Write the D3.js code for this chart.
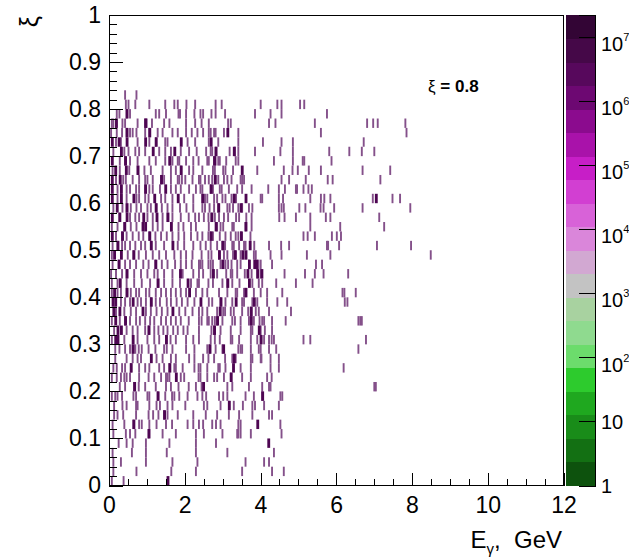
<!DOCTYPE html>
<html><head><meta charset="utf-8">
<script src="https://cdn.jsdelivr.net/npm/d3@7"></script>
<style>
body{margin:0;background:#fff}
svg{display:block}
text{font-family:"Liberation Sans",Arial,Helvetica,sans-serif;fill:#000}
</style>
</head><body>
<svg id="chart" width="629" height="557"></svg>
<script>
// ---------------- DATA ----------------
// lower edges of the xi bins (rows), bin height 0.02
const xiRows = [0.00,0.02,0.04,0.06,0.08,0.10,0.12,0.14,0.16,0.18,0.20,0.22,0.24,0.26,0.28,0.30,0.32,0.34,0.36,0.38,0.40,0.42,0.44,0.46,0.48,0.50,0.52,0.54,0.56,0.58,0.60,0.62,0.64,0.66,0.68,0.70,0.72,0.74,0.76,0.78,0.80,0.82];
const xiBin = 0.02;
const eBin = 0.05;   // E_gamma bin width, GeV
// E_gamma (GeV) of filled cells with low content, one list per xi row
const lowCells = [
 [0.05,0.36],
 [0.09,0.70,1.62,2.27,3.49,4.28,4.59],
 [0.09,0.29,0.95,1.65,2.31,3.58,4.07,4.20],
 [0.07,0.58,0.95,1.50,2.27,3.10,4.33],
 [0.23,0.44,0.60,0.95,1.57,2.27,2.80],
 [0.09,0.42,0.53,0.67,1.02,1.39,1.74,2.27,2.48,2.97,3.36,3.39,3.45,3.72,4.53],
 [0.07,0.38,0.62,0.77,0.84,1.04,1.23,1.48,1.64,2.05,2.20,2.35,2.46,2.70,2.80,2.92,3.39,3.45,4.50],
 [0.11,0.20,0.35,0.69,1.02,1.14,1.28,1.43,1.52,1.79,2.20,2.53,2.83,3.14,3.41,3.76,4.20,4.28],
 [0.11,0.33,0.44,0.69,0.73,1.04,1.23,1.32,1.52,1.65,1.99,2.48,2.57,2.92,3.14,3.27,3.51,3.76,3.83,4.07,4.46],
 [0.05,0.14,0.20,0.32,0.62,0.69,0.99,1.04,1.26,1.46,1.64,1.70,1.83,2.05,2.31,2.44,2.54,2.88,2.99,3.10,3.58,3.80,4.02,4.50,4.55],
 [0.26,0.40,0.64,0.76,0.93,1.21,1.48,1.61,1.81,2.08,2.27,2.42,3.10,3.23,3.67,4.02,4.20,4.24,6.98,7.02],
 [0.05,0.18,0.29,0.38,0.44,0.53,0.77,1.02,1.17,1.35,1.48,1.52,1.57,1.87,1.96,2.34,2.39,2.57,2.75,2.83,3.01,3.19,3.49,3.72,4.15,4.27],
 [0.09,0.18,0.32,0.40,0.55,0.77,0.93,1.04,1.30,1.43,1.57,1.70,1.74,1.92,2.23,2.34,2.39,2.57,2.86,2.90,3.05,3.45,3.72,4.24,4.46,6.17],
 [0.14,0.44,0.60,0.73,0.82,1.23,1.39,1.61,1.74,2.09,2.23,2.46,2.60,2.75,3.04,3.23,3.27,3.32,3.72,3.76,3.98,4.00,4.24,4.46],
 [0.14,0.25,0.40,0.53,0.60,0.67,0.76,0.84,1.02,1.20,1.43,1.50,1.65,2.01,2.23,2.57,2.63,2.79,2.97,3.39,3.45,3.49,3.72,3.93,3.98,4.20,4.39,6.56],
 [0.05,0.38,0.73,0.99,1.17,1.30,1.48,1.60,1.74,2.01,2.20,2.35,2.66,2.77,2.90,3.19,3.23,3.41,3.72,3.89,3.98,4.07,4.20,4.27,4.33,5.11,5.29,6.76],
 [0.11,0.44,0.60,0.73,0.93,1.02,1.17,1.28,1.41,1.52,1.67,1.79,1.94,2.05,2.35,2.68,2.75,2.92,3.19,3.45,3.72,3.76,3.98,4.09,4.28],
 [0.05,0.26,0.40,0.53,0.69,0.79,0.93,1.06,1.17,1.35,1.48,1.61,1.74,1.87,2.08,2.35,2.42,2.57,2.61,2.70,2.77,2.83,2.97,3.23,3.30,3.45,3.67,3.72,3.80,3.95,4.02,4.07,4.28,4.64,6.56,6.61,6.65],
 [0.16,0.38,0.55,0.69,0.95,1.08,1.23,1.37,1.52,1.83,1.99,2.18,2.35,2.44,2.57,2.83,2.90,2.99,3.04,3.19,3.27,3.49,3.65,3.72,3.85,3.93,4.20,4.78],
 [0.29,0.40,0.53,0.73,0.82,0.95,1.08,1.21,1.32,1.50,1.61,1.76,1.90,2.05,2.23,2.61,2.70,2.92,3.05,3.23,3.49,3.54,3.76,3.89,4.15,4.42,4.68,6.20,6.27],
 [0.05,0.20,0.29,0.44,0.55,0.69,0.77,0.95,1.04,1.21,1.35,1.48,1.61,1.74,1.87,2.01,2.27,2.44,2.57,2.88,3.10,3.32,3.36,3.54,3.58,3.80,3.98,4.15,4.55,6.14,6.19,6.49],
 [0.05,0.20,0.26,0.44,0.64,0.84,1.06,1.26,1.43,1.65,1.85,2.14,2.31,2.35,2.60,2.72,2.97,3.10,3.23,3.42,3.76,3.93,4.02,4.39,4.91,5.35],
 [0.03,0.16,0.32,0.44,0.64,0.82,0.99,1.17,1.26,1.43,1.65,1.92,2.20,2.35,2.46,2.66,2.72,2.83,3.07,3.19,3.23,3.36,3.56,3.74,3.89,3.98,4.61,5.15,5.41,5.64,6.29],
 [0.07,0.23,0.40,0.53,0.69,0.88,1.02,1.20,1.37,1.52,1.72,1.87,2.01,2.16,2.35,2.39,2.44,2.60,2.66,2.72,2.92,3.05,3.12,3.21,3.36,3.45,3.67,3.92,3.98,4.28,5.44,5.60],
 [0.05,0.47,0.62,0.76,0.95,1.13,1.30,1.48,1.70,1.87,2.01,2.18,2.42,2.60,2.68,2.88,3.01,3.10,3.25,3.30,3.45,3.80,3.85,4.24,4.53,5.20,5.82,8.47],
 [0.07,0.20,0.32,0.40,0.53,0.67,0.82,0.93,1.08,1.21,1.43,1.79,1.96,2.20,2.39,2.53,2.66,2.83,2.97,3.04,3.23,3.27,3.41,3.54,3.58,3.81,4.20,4.52,4.73,5.73,5.76,6.05,7.05,7.95],
 [0.16,0.32,0.44,0.60,0.76,0.88,1.04,1.20,1.35,1.50,1.65,1.81,1.96,2.14,2.31,2.44,2.60,2.66,2.72,2.90,3.05,3.19,3.32,3.39,3.46,3.71,5.11,5.22,5.41,5.86,5.99,6.10],
 [0.05,0.20,0.38,0.55,0.70,1.13,1.26,1.39,1.61,1.81,1.94,2.14,2.27,2.61,2.83,2.92,2.99,3.23,3.27,3.58,3.74,5.29,6.08,7.24],
 [0.25,0.53,0.67,0.77,0.99,1.13,1.39,1.52,1.65,1.87,2.08,2.25,2.35,2.48,2.60,2.68,2.77,2.88,3.01,3.12,3.33,3.41,3.60,3.74,4.47,4.61,4.91,5.29,5.70,5.82,7.11],
 [0.09,0.33,0.44,0.55,0.70,0.82,0.99,1.08,1.21,1.37,1.52,1.65,1.85,2.02,2.20,2.44,2.51,2.63,2.75,2.86,3.10,3.16,3.25,3.39,3.49,3.67,3.76,4.46,4.53,4.59,5.00,5.16,5.56,5.64,5.92,6.67,7.93],
 [0.20,0.29,0.44,0.70,0.77,0.93,1.02,1.35,1.46,1.65,1.96,2.20,2.44,2.51,2.57,2.75,2.83,2.97,3.05,3.21,3.27,3.33,3.98,4.02,4.46,4.57,5.29,5.57,5.66,5.82,6.94,7.46,7.66],
 [0.20,0.29,0.44,0.53,0.69,0.77,0.93,1.04,1.13,1.32,1.61,1.74,1.87,2.09,2.27,2.39,2.44,2.66,2.72,2.90,2.95,3.14,3.36,3.49,3.74,4.18,4.46,4.62,4.91,4.94,5.11,5.24,5.33],
 [0.16,0.26,0.35,0.42,0.60,0.77,0.93,0.99,1.13,1.35,1.43,1.61,1.79,1.83,1.90,1.99,2.18,2.35,2.39,2.51,2.61,2.70,2.77,2.86,3.01,3.10,3.21,3.45,3.49,3.54,4.53,4.73,5.17,5.75,5.88,7.14],
 [0.07,0.26,0.51,0.73,0.91,1.08,1.39,1.61,1.74,1.87,2.09,2.20,2.44,2.72,2.77,2.99,3.05,3.25,3.89,4.59,4.82,4.96,5.25,5.57,6.67,7.40],
 [0.26,0.40,0.53,0.73,1.04,1.21,1.46,1.57,1.65,1.79,1.83,2.01,2.20,2.34,2.57,2.61,2.75,2.79,2.86,2.90,3.07,3.32,3.39,4.33,4.83,5.09,5.13,5.85],
 [0.09,0.29,0.38,0.49,0.67,0.77,0.93,1.30,1.46,1.61,1.87,2.09,2.29,2.54,2.66,2.70,2.79,3.16,3.30,3.39,3.83,4.50,4.83,5.79,6.32,6.65,6.98],
 [0.16,0.29,0.73,1.04,1.21,1.46,1.52,2.05,2.25,2.61,2.86,3.39,4.04,4.53,4.83,6.70],
 [0.03,0.18,0.32,0.44,0.53,0.60,0.70,0.93,1.04,1.26,1.39,1.65,1.79,2.01,2.16,2.31,2.46,2.61,2.66,2.75,2.79,3.01,3.39,5.57,7.83],
 [0.05,0.09,0.16,0.33,0.40,0.73,0.93,0.97,1.11,1.43,1.57,2.01,2.25,2.42,2.61,3.12,3.19,4.20,4.37,5.41,6.79,6.95,7.07,7.80],
 [0.18,0.25,0.44,0.53,1.21,1.30,1.48,1.81,1.85,2.01,2.23,2.39,2.46,2.68,2.79,3.04,3.83,4.24,4.53,5.73],
 [0.42,0.49,0.67,1.04,1.46,1.70,1.79,2.02,2.25,2.79,2.95,3.98,4.42,4.53,5.02,5.13],
 [0.40,0.70]
];
// E_gamma (GeV) of filled cells with high content, one list per xi row
const highCells = [
 [1.52],[],[],[],[4.18],[1.02],[0.62,3.89],[1.43],[3.14],[1.26,4.02],
 [0.64,2.46],[1.74,3.19],[0.55,1.57,3.25],[1.08,3.27],[0.60,2.63,2.99],[0.14,0.20,0.60,1.48,3.98],[0.20,0.29,1.02,2.75,3.93],[0.14,0.40,2.83,3.72],[0.09,0.25,0.86,1.65,2.90,3.72],[0.07,0.14,0.60,1.08,2.39,2.92,3.32,3.80],
 [0.11,0.44,2.09,3.58],[0.26,1.26,2.05,3.10,3.67],[0.44,1.85,2.72,3.63,3.89,4.00],[0.23,1.20,2.97,3.67,3.81,3.86],[0.11,0.29,0.62,2.88,3.30,3.50,3.58],[0.20,1.08,1.65,2.97,3.69],[0.05,0.32,1.04,2.66,3.46],[0.38,0.86,0.93,1.61,2.79,3.58],[0.05,0.25,0.44,0.88,1.23,1.52,2.68],[0.18,0.44,1.21,2.86,3.45],
 [0.05,0.29,0.62,1.17,1.79,2.44,3.27,3.58,7.02],[0.05,0.29,0.93,1.46,2.66],[0.05,0.26,1.35,2.77],[0.14,0.42,0.73,1.87,3.48],[0.05,0.40,1.57,2.75],[0.29,1.13,1.70,2.79,3.27],[0.05,0.23,0.44,0.93,1.21,1.87,2.66],[0.44,1.04,3.10],[0.16,0.93],[0.44],
 [],[]
];
const lowContent = 3e6, highContent = 1.8e7;

const xTicks = [0,2,4,6,8,10,12];
const yTicks = [0,0.1,0.2,0.3,0.4,0.5,0.6,0.7,0.8,0.9,1];
const zMin = 1, zMax = 2.2e7;
const paletteColors = ["#0d520d","#137013","#198c19","#1fa81f","#2dcb2d","#6cdc6c","#8fda8f","#a8d2a0","#c3c3c3","#d2a8d2","#da86da","#d862d8","#d23fd2","#c71ec7","#a912aa","#8b0b8e","#6d0872","#57085c","#450848","#330535"];
const cellColors = {low:"#84508a", high:"#4e0652"};
const zLabels = [{v:1,base:"1",exp:""},{v:10,base:"10",exp:""},{v:1e2,base:"10",exp:"2"},{v:1e3,base:"10",exp:"3"},{v:1e4,base:"10",exp:"4"},{v:1e5,base:"10",exp:"5"},{v:1e6,base:"10",exp:"6"},{v:1e7,base:"10",exp:"7"}];

// ---------------- LAYOUT ----------------
const L = 109, R = 563.5, T = 15, B = 485.5;
const svg = d3.select("#chart");
const x = d3.scaleLinear().domain([0,12]).range([L,R]);
const y = d3.scaleLinear().domain([0,1]).range([B,T]);
const zy = d3.scaleLog().domain([zMin,zMax]).range([B,T]);

// cells
const cells = [];
xiRows.forEach((xi,i)=>{
  lowCells[i].forEach(e=>cells.push({e,xi,c:lowContent}));
});
xiRows.forEach((xi,i)=>{
  highCells[i].forEach(e=>cells.push({e,xi,c:highContent}));
});
const plot = svg.append("g");
plot.selectAll("rect.cell").data(cells).join("rect")
  .attr("class","cell")
  .attr("x",d=>x(d.e))
  .attr("width",d=>x(d.e + (d.c>=highContent ? 1.5*eBin : eBin)) - x(d.e))
  .attr("y",d=>y(d.xi+xiBin))
  .attr("height",d=>y(d.xi)-y(d.xi+xiBin))
  .attr("fill",d=>d.c>=highContent ? cellColors.high : cellColors.low);

// frame
svg.append("rect").attr("x",L).attr("y",T).attr("width",R-L).attr("height",B-T)
  .attr("fill","none").attr("stroke","#000").attr("stroke-width",1).attr("shape-rendering","crispEdges");

// x axis
const minorX = d3.range(0,12.001,0.5);
const gx = svg.append("g").attr("transform",`translate(0,${B})`).attr("shape-rendering","crispEdges");
gx.call(d3.axisBottom(x).tickValues(minorX).tickSize(-7).tickFormat(""));
gx.call(g=>g.select(".domain").remove());
const gx2 = svg.append("g").attr("transform",`translate(0,${B})`).attr("shape-rendering","crispEdges");
gx2.call(d3.axisBottom(x).tickValues(xTicks).tickSize(-13).tickPadding(11).tickFormat(d3.format("d")));
gx2.call(g=>g.select(".domain").remove());
gx2.selectAll("text").attr("font-size",23).attr("font-family","Liberation Sans, Arial, sans-serif").attr("fill","#000");

// y axis
const minorY = d3.range(0,1.0001,0.02);
const gy = svg.append("g").attr("transform",`translate(${L},0)`).attr("shape-rendering","crispEdges");
gy.call(d3.axisLeft(y).tickValues(minorY).tickSize(-8).tickFormat(""));
gy.call(g=>g.select(".domain").remove());
const gy2 = svg.append("g").attr("transform",`translate(${L},0)`).attr("shape-rendering","crispEdges");
gy2.call(d3.axisLeft(y).tickValues(yTicks).tickSize(-14).tickPadding(8).tickFormat(d=>d===0||d===1?d3.format("d")(d):d3.format(".1f")(d)));
gy2.call(g=>g.select(".domain").remove());
gy2.selectAll("text").attr("font-size",23).attr("font-family","Liberation Sans, Arial, sans-serif").attr("fill","#000");
svg.selectAll(".tick line").attr("stroke","#000");

// palette
const PL = 566, PR = 595;
const lz0 = Math.log10(zMin), lz1 = Math.log10(zMax);
const bands = paletteColors.map((c,k)=>({c, lo:Math.pow(10, lz0+(lz1-lz0)*k/paletteColors.length), hi:Math.pow(10, lz0+(lz1-lz0)*(k+1)/paletteColors.length)}));
svg.append("g").selectAll("rect").data(bands).join("rect")
  .attr("x",PL).attr("width",PR-PL)
  .attr("y",d=>zy(d.hi)).attr("height",d=>zy(d.lo)-zy(d.hi)+0.5)
  .attr("fill",d=>d.c).attr("shape-rendering","crispEdges");
const gz = svg.append("g").attr("transform",`translate(${PR},0)`).attr("shape-rendering","crispEdges");
const minorZ = [];
for (let p=0;p<8;p++) for (let m=2;m<=9;m++){ const v=m*Math.pow(10,p); if(v<=zMax) minorZ.push(v); }
gz.call(d3.axisRight(zy).tickValues(minorZ).tickSize(-8).tickFormat(""));
gz.call(d3.axisRight(zy).tickValues(zLabels.map(d=>d.v)).tickSize(-16).tickFormat(""));
gz.selectAll(".domain").attr("stroke","#000");
gz.selectAll(".tick line").attr("stroke","#000");
const zl = svg.append("g").selectAll("text").data(zLabels).join("text")
  .attr("x",601).attr("y",d=>zy(d.v)+(d.exp?7:0)).attr("dy","0.36em").attr("font-size",20);
zl.append("tspan").text(d=>d.base);
zl.filter(d=>d.exp).append("tspan").attr("font-size",11).attr("dy",-10).text(d=>d.exp);

// titles
const xt = svg.append("text").attr("x",562).attr("y",548).attr("text-anchor","end").attr("font-size",24);
xt.append("tspan").text("E");
xt.append("tspan").attr("font-size",15).attr("dy",6).text("γ");
xt.append("tspan").attr("dy",-6).text(",\u00a0\u00a0GeV");
svg.append("text").attr("transform","translate(38,16) rotate(-90)").attr("text-anchor","end").attr("font-size",25).text("ξ");
const ann = svg.append("text").attr("x",428).attr("y",92).attr("font-size",17);
ann.append("tspan").text("ξ");
ann.append("tspan").attr("font-weight","bold").text(" = 0.8");
</script>
</body></html>
